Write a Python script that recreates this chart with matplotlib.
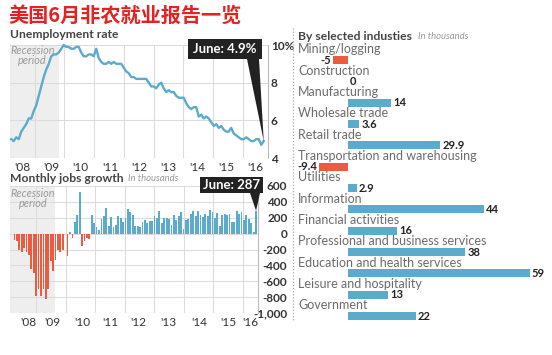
import matplotlib
matplotlib.use("Agg")
import matplotlib.pyplot as plt
from matplotlib.patches import Rectangle, Polygon
from matplotlib.lines import Line2D
import numpy as np

# ---------------- data ----------------
title_cn = "美国6月非农就业报告一览"

# Unemployment rate, Jan 2008 .. Jun 2016 (%)
unemp = [5.0, 4.9, 5.1, 5.0, 5.4, 5.6, 5.8, 6.1, 6.1, 6.5, 6.8, 7.3,
         7.8, 8.3, 8.7, 9.0, 9.4, 9.5, 9.5, 9.6, 9.8, 10.0, 9.9, 9.9,
         9.8, 9.8, 9.9, 9.9, 9.6, 9.4, 9.4, 9.5, 9.5, 9.4, 9.8, 9.3,
         9.1, 9.0, 9.0, 9.1, 9.0, 9.1, 9.0, 9.0, 9.0, 8.8, 8.6, 8.5,
         8.3, 8.3, 8.2, 8.2, 8.2, 8.2, 8.2, 8.0, 7.8, 7.8, 7.7, 7.9,
         8.0, 7.7, 7.5, 7.6, 7.5, 7.5, 7.3, 7.2, 7.2, 7.2, 6.9, 6.7,
         6.6, 6.7, 6.7, 6.2, 6.3, 6.1, 6.2, 6.1, 5.9, 5.7, 5.8, 5.6,
         5.7, 5.5, 5.4, 5.4, 5.6, 5.3, 5.2, 5.1, 5.0, 5.0, 5.1, 5.0,
         4.9, 4.9, 5.0, 5.0, 4.7, 4.9]

# Monthly nonfarm payroll change, Jan 2008 .. Jun 2016 (thousands)
jobs = [-10, -80, -90, -210, -230, -180, -230, -270, -450, -490, -780, -700,
        -790, -700, -820, -700, -350, -470, -330, -210, -230, -200, -10, -280,
        15, -60, 150, 230, 520, -150, -90, -60, -70, 240, 130, 80,
        40, 190, 220, 320, 100, 210, 80, 110, 220, 200, 150, 200,
        310, 270, 240, 90, 100, 80, 150, 170, 140, 160, 160, 220,
        200, 280, 140, 200, 200, 180, 110, 240, 170, 220, 270, 60,
        170, 190, 250, 280, 220, 290, 240, 210, 250, 220, 300, 270,
        200, 260, 100, 230, 250, 230, 250, 150, 150, 290, 250, 270,
        170, 240, 190, 140, 20, 287]

year_labels = ["'08", "'09", "'10", "'11", "'12", "'13", "'14", "'15", "'16"]
unemp_ticks = [4, 6, 8, 10]
unemp_ticklabels = ["4", "6", "8", "10%"]
jobs_ticks = [600, 400, 200, 0, -200, -400, -600, -800, -1000]

industries = ["Mining/logging", "Construction", "Manufacturing", "Wholesale trade",
              "Retail trade", "Transportation and warehousing", "Utilities",
              "Information", "Financial activities",
              "Professional and business services",
              "Education and health services", "Leisure and hospitality",
              "Government"]
ind_values = [-5, 0, 14, 3.6, 29.9, -9.4, 2.9, 44, 16, 38, 59, 13, 22]

# ---------------- style ----------------
BLUE = "#5aabcc"
RED = "#ec5a40"
GRID = "#dcdcdc"
SHADE = "#eeeeee"
DARK = "#333333"
GRAY = "#6b6b6b"
FONT = "Lato"

W, H = 552, 355
fig = plt.figure(figsize=(W / 100, H / 100), dpi=100)
fig.patch.set_facecolor("white")


def rect(x0, y0, x1, y1):
    return [x0 / W, 1 - y1 / H, (x1 - x0) / W, (y1 - y0) / H]


def fx(x):
    return x / W


def fy(y):
    return 1 - y / H


months = np.arange(len(unemp))

# title
fig.text(fx(8), fy(15), title_cn, color="#e52222", fontsize=14.5,
         fontweight="bold", family=["Noto Sans CJK SC", "DejaVu Sans"],
         va="center", ha="left")

# ---------------- unemployment ----------------
ax1 = fig.add_axes(rect(10, 45, 267.5, 158))
ax1.set_xlim(-0.5, 102.5)
ax1.set_ylim(4, 10)
ax1.axvspan(-0.5, 19, color=SHADE, zorder=0, lw=0)
for m in [9.3 + 11.9 * k for k in range(8)]:
    ax1.axvline(m, color=GRID, lw=0.8, zorder=1)
for t in unemp_ticks:
    ax1.axhline(t, color=GRID, lw=0.8, zorder=1)
ax1.plot(months, unemp, color=BLUE, lw=1.7, zorder=3, clip_on=False,
         solid_joinstyle="round")
for s in ["top", "left", "bottom"]:
    ax1.spines[s].set_visible(False)
ax1.spines["right"].set_color("#bbbbbb")
ax1.spines["right"].set_linewidth(0.8)
ax1.yaxis.tick_right()
ax1.set_yticks(unemp_ticks)
ax1.set_yticklabels(unemp_ticklabels)
ax1.tick_params(axis="y", length=0, pad=2.5, labelsize=8.5, labelcolor=DARK)
for lab in ax1.get_yticklabels():
    lab.set_family(FONT)
    lab.set_fontweight("bold")
ax1.set_xticks([4.5 + 11.65 * k for k in range(9)])
ax1.set_xticklabels(year_labels)
ax1.tick_params(axis="x", length=0, pad=3, labelsize=8.5, labelcolor=DARK)
for lab in ax1.get_xticklabels():
    lab.set_family(FONT)
ax1.text(8.5, 9.45, "Recession\nperiod", fontsize=7.8, color="#999999",
         style="italic", family=FONT, ha="center", va="center", linespacing=0.85)
fig.text(fx(10), fy(35), "Unemployment rate", fontsize=8.7, fontweight="bold",
         color="#444444", family=FONT, va="center")

# callout unemployment
fig.canvas.draw()
tip = ax1.transData.transform((months[-1], unemp[-1]))
bx0, bx1, by0, by1 = 188, 262, 39, 59
fig.add_artist(Rectangle((fx(bx0), fy(by1)), (bx1 - bx0) / W, (by1 - by0) / H,
                         transform=fig.transFigure, facecolor="#222222",
                         edgecolor="none", zorder=10))
fig.add_artist(Polygon([(fx(247), fy(by1)), (fx(259), fy(by1)),
                        (tip[0] / W, tip[1] / H)],
                       closed=True, transform=fig.transFigure,
                       facecolor="#222222", edgecolor="none", zorder=10))
fig.text(fx((bx0 + bx1) / 2), fy((by0 + by1) / 2), f"June: {unemp[-1]}%",
         color="white", fontsize=9.5, fontweight="bold", family=FONT,
         ha="center", va="center", zorder=11)

# ---------------- jobs ----------------
ax2 = fig.add_axes(rect(10, 186, 257.5, 313))
ax2.set_xlim(-0.83, 101.6)
ax2.set_ylim(-1000, 600)
ax2.axvspan(-0.83, 17.9, color=SHADE, zorder=0, lw=0)
for m in [10 + 12.2 * k for k in range(8)]:
    ax2.axvline(m, color=GRID, lw=0.8, zorder=1)
for t in jobs_ticks:
    ax2.axhline(t, color=GRID, lw=0.8, zorder=1)
jm = np.arange(len(jobs))
jv = np.array(jobs)
ax2.bar(jm, jv, width=0.75, color=[BLUE if v >= 0 else RED for v in jv],
        zorder=3, lw=0)
for s in ["top", "left", "bottom"]:
    ax2.spines[s].set_visible(False)
ax2.spines["right"].set_color("#bbbbbb")
ax2.spines["right"].set_linewidth(0.8)
ax2.yaxis.tick_right()
ax2.set_yticks(jobs_ticks)
ax2.set_yticklabels([f"{t:,}" for t in jobs_ticks])
ax2.tick_params(axis="y", length=0, pad=21.5, labelsize=8.5, labelcolor=DARK)
for lab in ax2.get_yticklabels():
    lab.set_family(FONT)
    lab.set_fontweight("bold")
    lab.set_horizontalalignment("right")
ax2.set_xticks([6.6, 16.6, 29, 40.6, 52.2, 64.6, 77.4, 89.4, 98.5])
ax2.set_xticklabels(year_labels)
ax2.tick_params(axis="x", length=0, pad=3, labelsize=8.5, labelcolor=DARK)
for lab in ax2.get_xticklabels():
    lab.set_family(FONT)
ax2.text(8.7, 440, "Recession\nperiod", fontsize=7.8, color="#999999",
         style="italic", family=FONT, ha="center", va="center", linespacing=0.85)
fig.text(fx(10), fy(178), "Monthly jobs growth", fontsize=8.7,
         fontweight="bold", color="#444444", family=FONT, va="center")
fig.text(fx(128), fy(178.5), "In thousands", fontsize=6.8, style="italic",
         color="#999999", family=FONT, va="center")

fig.canvas.draw()
tip2 = ax2.transData.transform((jm[-1], jv[-1]))
cx0, cx1, cy0, cy1 = 200, 263, 177, 193
fig.add_artist(Rectangle((fx(cx0), fy(cy1)), (cx1 - cx0) / W, (cy1 - cy0) / H,
                         transform=fig.transFigure, facecolor="#222222",
                         edgecolor="none", zorder=10))
fig.add_artist(Polygon([(fx(250), fy(cy1)), (fx(260), fy(cy1)),
                        (tip2[0] / W, tip2[1] / H)],
                       closed=True, transform=fig.transFigure,
                       facecolor="#222222", edgecolor="none", zorder=10))
fig.text(fx((cx0 + cx1) / 2), fy((cy0 + cy1) / 2), f"June: {jobs[-1]}",
         color="white", fontsize=9.5, fontweight="bold", family=FONT,
         ha="center", va="center", zorder=11)

# ---------------- industries ----------------
ax3 = fig.add_axes(rect(292, 28, 552, 332))
ax3.set_xlim(-18.2, 66.2)
ax3.set_ylim(12.75, -1.5)
ax3.axis("off")
rows = np.arange(len(industries))
ax3.barh(rows, ind_values, height=0.38,
         color=[BLUE if v > 0 else RED for v in ind_values], lw=0)
ytr = ax3.get_yaxis_transform()
for i, (name, v) in enumerate(zip(industries, ind_values)):
    ax3.text(0.023, i - 0.5, name, transform=ytr, fontsize=9, color=GRAY,
             family=FONT, va="center", ha="left")
    lbl = f"{v:g}"
    if v < 0:
        ax3.annotate(lbl, (v, i), xytext=(-1, 0), textcoords="offset points",
                     ha="right", va="center", fontsize=8, fontweight="bold",
                     color="#222222", family=FONT)
    else:
        ax3.annotate(lbl, (v, i), xytext=(1.5, 0), textcoords="offset points",
                     ha="left", va="center", fontsize=8, fontweight="bold",
                     color="#222222", family=FONT)
fig.text(fx(298), fy(36), "By selected industies", fontsize=8.7,
         fontweight="bold", color="#444444", family=FONT, va="center")
fig.text(fx(418), fy(36.5), "In thousands", fontsize=6.8, style="italic",
         color="#999999", family=FONT, va="center")
fig.add_artist(Line2D([fx(293), fx(293)], [fy(28), fy(320)], ls=(0, (1, 1.5)),
                      color="#aaaaaa", lw=0.9, transform=fig.transFigure))

fig.savefig("out.png", dpi=100, facecolor="white")
